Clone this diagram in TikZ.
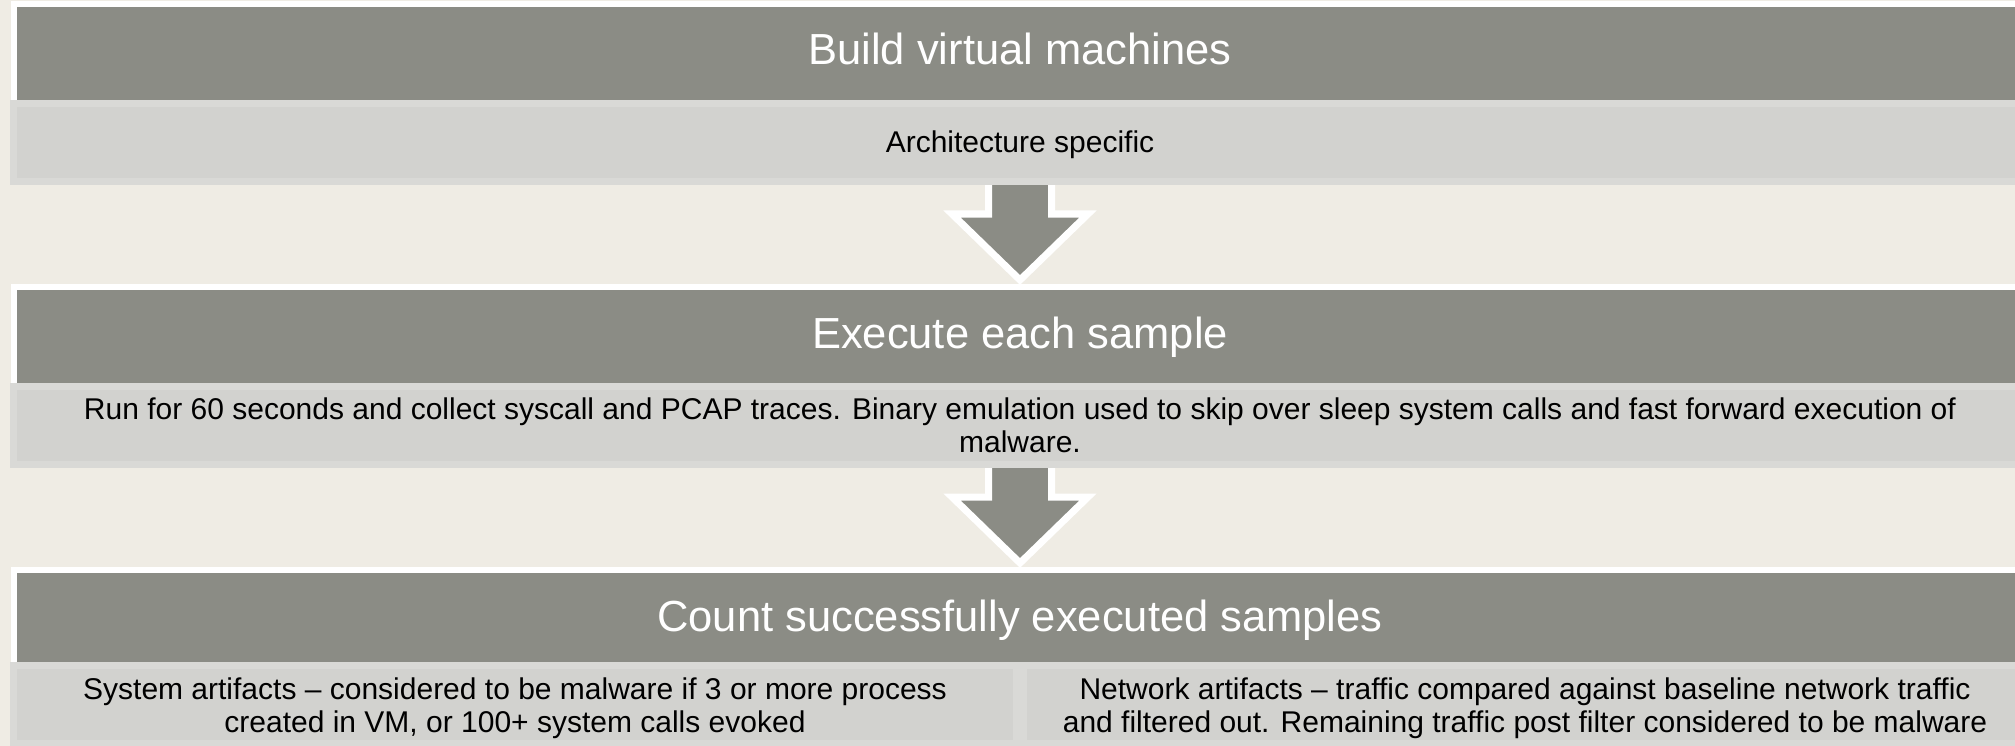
\documentclass[tikz,border=0pt]{standalone}
\usepackage{fontspec}
\setmainfont{Liberation Sans}
\usetikzlibrary{calc}
\definecolor{cream}{HTML}{EFECE4}
\definecolor{darkbox}{HTML}{8B8C85}
\definecolor{lightouter}{HTML}{D9D9D6}
\definecolor{lightinner}{HTML}{D2D2CF}
\pgfdeclarelayer{back}
\pgfdeclarelayer{arrowlayer}
\pgfsetlayers{back,arrowlayer,main}
\begin{document}
\begin{tikzpicture}[x=1pt,y=-1pt,
  every node/.style={outer sep=0pt, inner sep=0pt},
  titlebox/.style={rectangle, anchor=north west, fill=darkbox, preaction={draw=white, line width=12pt}, minimum width=2006pt},
  bodybox/.style={rectangle, anchor=north west, fill=lightinner, draw=lightouter, line width=7pt, minimum height=78pt},
  titletext/.style={anchor=base, text=white, font=\fontsize{43.5}{52}\selectfont},
  bodytext/.style={anchor=base, text=black, align=center, font=\fontsize{30}{33}\selectfont},
  blockarrow/.style={fill=darkbox, draw=white, line width=7pt, line join=miter, miter limit=10}]
\useasboundingbox (0,0) rectangle (2015,746);
\begin{pgfonlayer}{back}
\fill[cream] (0,0) rectangle (2015,746);
\end{pgfonlayer}
% section 1
\node[titlebox, minimum height=93pt] (t1) at (17,7) {};
\node[bodybox, minimum width=2013pt] (b1) at (13.5,103.5) {};
\node[titletext] (tt1) at ($(t1.center)+(0,11.5)$) {Build virtual machines};
\node[bodytext] (bt1) at ($(b1.center)+(0,10)$) {Architecture specific};
% section 2
\node[titlebox, minimum height=93pt] (t2) at (17,290) {};
\node[bodybox, minimum width=2013pt] (b2) at (13.5,386.5) {};
\node[titletext] (tt2) at ($(t2.center)+(0,12)$) {Execute each sample};
\node[bodytext] (bt2) at ($(b2.center)+(0,26.5)$) {Run for 60 seconds and collect syscall and PCAP traces. Binary emulation used to skip over sleep system calls and fast forward execution of\\malware.};
% section 3
\node[titlebox, minimum height=89pt] (t3) at (17,573) {};
\node[bodybox, minimum width=1003pt] (b3l) at (13.5,665.5) {};
\node[bodybox, minimum width=1003pt] (b3r) at (1023.5,665.5) {};
\node[titletext] (tt3) at ($(t3.center)+(0,14)$) {Count successfully executed samples};
\node[bodytext] (bt3l) at ($(b3l.center)+(0,27.5)$) {System artifacts – considered to be malware if 3 or more process\\created in VM, or 100+ system calls evoked};
\node[bodytext] (bt3r) at ($(b3r.center)+(0,27.5)$) {Network artifacts – traffic compared against baseline network traffic\\and filtered out. Remaining traffic post filter considered to be malware};
% arrows
\begin{pgfonlayer}{arrowlayer}
\draw[blockarrow] ($(b1.south)+(-31.5,-5)$) -- ($(t2.north)+(-31.5,-76)$) -- ($(t2.north)+(-68,-76)$) -- ($(t2.north)+(0,-10)$) -- ($(t2.north)+(68,-76)$) -- ($(t2.north)+(31.5,-76)$) -- ($(b1.south)+(31.5,-5)$) -- cycle;
\draw[blockarrow] ($(b2.south)+(-31.5,-5)$) -- ($(t3.north)+(-31.5,-76)$) -- ($(t3.north)+(-68,-76)$) -- ($(t3.north)+(0,-10)$) -- ($(t3.north)+(68,-76)$) -- ($(t3.north)+(31.5,-76)$) -- ($(b2.south)+(31.5,-5)$) -- cycle;
\end{pgfonlayer}
\end{tikzpicture}
\end{document}
